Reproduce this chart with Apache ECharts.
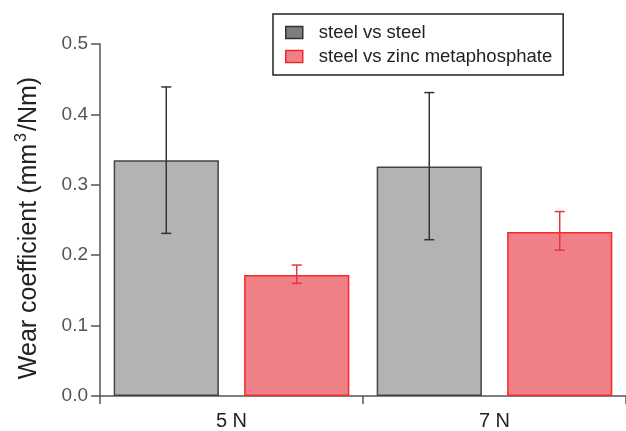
<!DOCTYPE html>
<html>
<head>
<meta charset="utf-8">
<script src="https://cdn.jsdelivr.net/npm/echarts@6/dist/echarts.min.js"></script>
<style>
  html, body { margin: 0; padding: 0; background: #fff; }
  #chart { width: 626px; height: 431px; }
</style>
</head>
<body>
<div id="chart"></div>
<script>
var loads = ['5 N', '7 N'];
var steelSteel = [0.335, 0.326];
var steelSteelLow = [0.231, 0.222];
var steelSteelHigh = [0.439, 0.431];
var steelZinc = [0.172, 0.233];
var steelZincLow = [0.160, 0.207];
var steelZincHigh = [0.186, 0.262];
var yTicks = [0, 0.1, 0.2, 0.3, 0.4, 0.5];

var font = 'Liberation Sans, Arial, sans-serif';

function errData(low, high) {
    return loads.map(function (c, i) { return [i, low[i], high[i]]; });
}

function errRender(side, color) {
    return function (params, api) {
        var i = api.value(0);
        var bw = api.size([1, 0])[0];
        var x = api.coord([i, 0])[0] + side * bw * 0.4 * 1.24 / 2;
        var lo = api.coord([i, api.value(1)])[1];
        var hi = api.coord([i, api.value(2)])[1];
        var st = { stroke: color, lineWidth: 1.5 };
        return {
            type: 'group',
            children: [
                { type: 'line', shape: { x1: x, y1: lo, x2: x, y2: hi }, style: st },
                { type: 'line', shape: { x1: x - 5, y1: hi, x2: x + 5, y2: hi }, style: st },
                { type: 'line', shape: { x1: x - 5, y1: lo, x2: x + 5, y2: lo }, style: st }
            ]
        };
    };
}

var mychart = echarts.init(document.getElementById('chart'));
var option = {
    animation: false,
    textStyle: { fontFamily: font },
    grid: {
        left: 100,
        right: 0,
        top: 44,
        bottom: 34
    },
    legend: {
        orient: 'vertical',
        left: 273,
        top: 14,
        padding: [9, 11, 9, 12],
        itemGap: 5,
        itemWidth: 17,
        itemHeight: 12,
        icon: 'rect',
        borderColor: '#222',
        borderWidth: 1.5,
        textStyle: {
            fontFamily: font,
            fontSize: 18.5,
            lineHeight: 18,
            color: '#222',
            padding: [0, 0, 0, 11]
        },
        data: [
            { name: 'steel vs steel', itemStyle: { color: '#7d7d7d', borderColor: '#333', borderWidth: 1.5 } },
            { name: 'steel vs zinc metaphosphate', itemStyle: { color: '#f08088', borderColor: '#f02a2a', borderWidth: 1.5 } }
        ]
    },
    xAxis: {
        type: 'category',
        data: loads,
        axisLine: { lineStyle: { color: '#555', width: 1.5 } },
        axisTick: { show: true, length: 8, lineStyle: { color: '#555', width: 1.5 } },
        axisLabel: {
            fontFamily: font,
            fontSize: 20,
            color: '#222',
            margin: 15
        }
    },
    yAxis: {
        type: 'value',
        min: 0,
        max: 0.5,
        interval: 0.1,
        name: '{a|Wear coefficient (mm}{s|3}{a|/Nm)}',
        nameLocation: 'middle',
        nameGap: 56,
        nameTextStyle: {
            padding: [0, 16, 0, 0],
            rich: {
                a: { fontFamily: font, fontSize: 25, color: '#222', lineHeight: 30 },
                s: { fontFamily: font, fontSize: 16, color: '#222', lineHeight: 30, verticalAlign: 'top', padding: [0, 2, 10, 2] }
            }
        },
        axisLine: { show: true, lineStyle: { color: '#555', width: 1.5 } },
        axisTick: { show: true, length: 9, lineStyle: { color: '#555', width: 1.5 } },
        splitLine: { show: false },
        axisLabel: {
            fontFamily: font,
            fontSize: 19,
            color: '#555',
            margin: 12,
            formatter: function (v) { return v.toFixed(1); }
        }
    },
    series: [
        {
            name: 'steel vs steel',
            type: 'bar',
            barWidth: '40%',
            barGap: '24%',
            data: steelSteel,
            itemStyle: { color: '#b3b3b3', borderColor: '#444', borderWidth: 1.5 }
        },
        {
            name: 'steel vs zinc metaphosphate',
            type: 'bar',
            barWidth: '40%',
            barGap: '24%',
            data: steelZinc,
            itemStyle: { color: '#f08088', borderColor: '#f52a2a', borderWidth: 1.5 }
        },
        {
            type: 'custom',
            renderItem: errRender(-1, '#333'),
            data: errData(steelSteelLow, steelSteelHigh),
            encode: { x: 0, y: [1, 2] },
            z: 10
        },
        {
            type: 'custom',
            renderItem: errRender(1, '#e8333c'),
            data: errData(steelZincLow, steelZincHigh),
            encode: { x: 0, y: [1, 2] },
            z: 10
        }
    ]
};
mychart.setOption(option);
</script>
</body>
</html>
